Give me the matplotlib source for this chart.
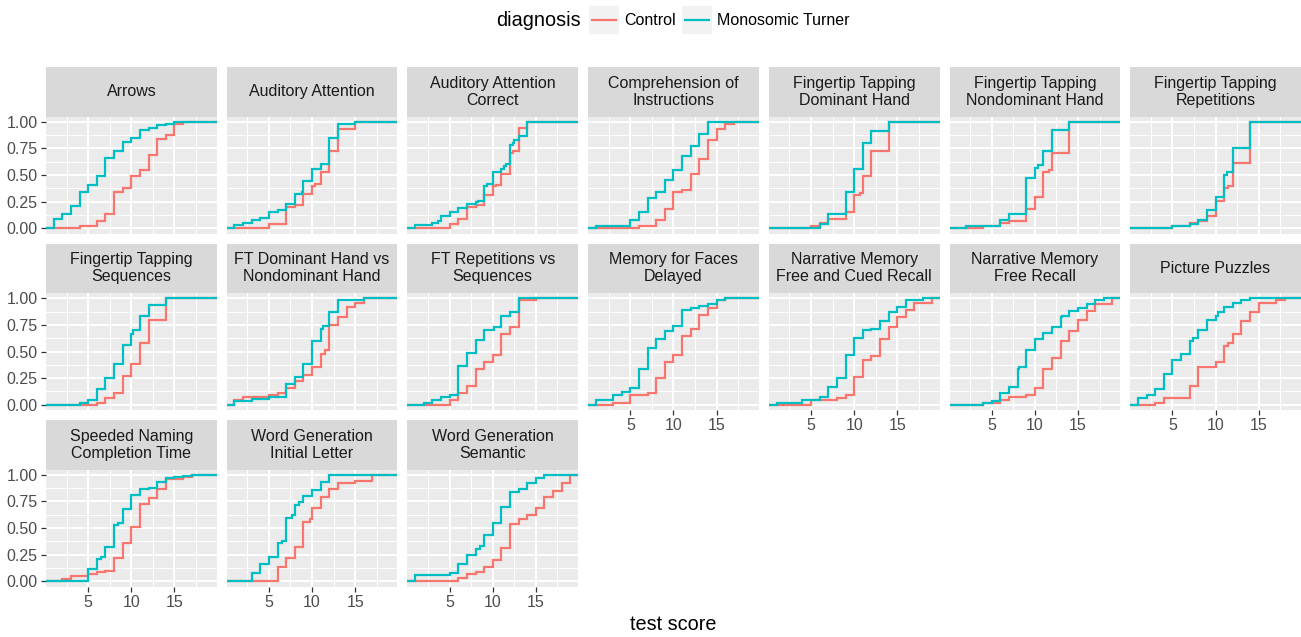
import matplotlib
matplotlib.use("Agg")
import matplotlib.pyplot as plt
from matplotlib.patches import Rectangle
from matplotlib.lines import Line2D

plt.rcParams['font.family'] = ['Liberation Sans', 'DejaVu Sans']

# ---- data: ECDF steps, (score, cumulative fraction) ----
arrows_ctrl = [(4, .02), (6, .07), (7, .13), (8, .34), (9, .38), (10, .49), (11, .55), (12, .69), (13, .84), (14, .88), (15, .98), (16, 1)]
arrows_turn = [(1, .09), (2, .13), (3, .21), (4, .34), (5, .41), (6, .49), (7, .66), (8, .73), (9, .81), (10, .85), (11, .92), (12, .94), (13, .97), (14, .98), (15, 1)]

aud_ctrl = [(5, .04), (7, .20), (8, .22), (9, .32), (10, .40), (10.4, .42), (11, .53), (12, .73), (13, .93), (15, 1)]
aud_turn = [(1, .03), (2, .05), (3, .075), (4, .10), (5, .15), (6, .175), (7, .23), (8, .32), (8.8, .34), (9, .44), (10, .56), (11, .60), (12, .85), (13, .98), (15, 1)]

audc_ctrl = [(5, .04), (6, .09), (7, .20), (8, .22), (9, .31), (10, .40), (10.4, .41), (11, .51), (12, .71), (12.3, .73), (13, .94), (14, 1)]
audc_turn = [(1, .03), (3, .05), (3.6, .07), (4, .11), (5, .15), (6, .19), (7, .23), (8, .25), (8.3, .26), (9, .40), (9.3, .42), (10, .53), (11, .56), (11.3, .58), (11.5, .60), (12, .78), (12.3, .80), (12.5, .83), (13, .87), (14, 1)]

comp_ctrl = [(6, .02), (8, .075), (9, .18), (10, .34), (11, .36), (12, .51), (13, .65), (14, .83), (15, .93), (16, .98), (17, 1)]
comp_turn = [(1, .02), (5, .075), (6, .15), (7, .28), (8, .34), (9, .45), (10, .55), (11, .68), (12, .77), (13, .89), (14, 1)]

ftdom_ctrl = [(5, .02), (6, .045), (7, .09), (9, .15), (10, .31), (10.7, .33), (11, .49), (12, .73), (14, 1)]
ftdom_turn = [(6, .04), (7, .13), (9, .34), (10, .56), (11, .80), (12, .91), (14, 1)]

ftnon_ctrl = [(4, .02), (6, .045), (7, .065), (9, .18), (10, .29), (11, .53), (11.6, .55), (12, .71), (14, 1)]
ftnon_turn = [(2, .02), (6, .075), (7, .13), (9, .47), (10, .57), (10.4, .59), (11, .73), (12, .92), (14, 1)]

ftrep_ctrl = [(5, .02), (7, .05), (8, .065), (9, .11), (10, .26), (11, .38), (11.5, .40), (12, .61), (14, 1)]
ftrep_turn = [(5, .02), (7, .04), (8, .075), (9, .17), (10, .29), (11, .50), (11.3, .53), (12, .75), (14, 1)]

ftseq_ctrl = [(6, .02), (7, .06), (8, .11), (9, .27), (10, .38), (11, .58), (12, .80), (14, 1)]
ftseq_turn = [(4, .02), (5, .04), (6, .15), (7, .25), (8, .38), (9, .56), (10, .66), (10.2, .70), (11, .83), (12, .94), (14, 1)]

ftdvn_ctrl = [(1, .04), (2, .07), (5, .09), (6, .11), (7, .16), (8, .22), (9, .28), (10, .35), (11, .48), (11.5, .51), (12, .75), (13, .82), (14, .92), (15, .96), (16, 1)]
ftdvn_turn = [(1, .03), (3, .05), (5, .075), (7, .19), (8, .26), (9, .38), (10, .60), (11, .71), (11.3, .74), (12, .87), (13, .98), (16, 1)]

ftrvs_ctrl = [(5, .045), (6, .11), (7, .18), (8, .34), (9, .40), (10, .47), (11, .66), (12, .73), (13, .98), (15, 1)]
ftrvs_turn = [(2, .02), (3, .04), (4, .075), (5, .09), (6, .36), (7, .49), (8, .61), (9, .70), (10.2, .73), (11, .83), (12, .87), (13, 1)]

faces_ctrl = [(3, .02), (5, .09), (7, .11), (8, .25), (9, .40), (10, .47), (11, .65), (12, .71), (13, .84), (14, .91), (15, .98), (16, 1)]
faces_turn = [(1, .04), (3, .09), (4, .12), (5, .16), (6, .34), (7, .53), (8, .62), (9, .69), (10, .74), (11, .89), (12, .91), (13, .93), (14, .95), (15, .98), (16, 1)]

nmcued_ctrl = [(5, .04), (8, .06), (9, .09), (10, .26), (11, .42), (12, .46), (13, .62), (14, .73), (15, .82), (16, .89), (17, .96), (19, 1)]
nmcued_turn = [(1, .02), (4, .04), (6, .075), (7, .17), (8, .25), (9, .47), (10, .63), (11, .70), (12, .71), (13, .79), (14, .87), (15, .92), (16, .98), (18, 1)]

nmfree_ctrl = [(4, .02), (6, .04), (7, .07), (9, .09), (10, .16), (11, .34), (12, .44), (13, .60), (14, .69), (15, .80), (16, .88), (17, .95), (19, 1)]
nmfree_turn = [(4, .02), (5, .03), (6, .11), (7, .17), (8, .34), (8.2, .35), (9, .51), (10, .62), (11, .67), (12, .73), (13, .82), (13.2, .83), (14, .88), (15, .91), (16, .95), (17, .98), (18, 1)]

puzz_ctrl = [(3, .02), (4, .06), (7, .18), (8, .35), (10, .40), (11, .55), (11.5, .58), (12, .66), (13, .79), (14, .87), (15, .96), (17, .98), (18, 1)]
puzz_turn = [(1, .06), (2, .09), (3, .15), (4, .29), (5, .42), (6, .48), (7, .60), (7.4, .63), (8, .70), (9, .80), (10, .83), (10.3, .87), (11, .92), (12, .96), (13, .98), (14, 1)]

speed_ctrl = [(2, .02), (3, .05), (5, .07), (6, .09), (7, .10), (8, .22), (9, .36), (10, .51), (11, .73), (12, .78), (13, .87), (14, .96), (16, .98), (17, 1)]
speed_turn = [(5, .11), (6, .21), (6.5, .23), (7, .32), (8, .53), (8.5, .55), (9, .68), (10, .81), (11, .87), (12, .88), (13, .93), (14, .97), (15, .98), (16, .99), (17, 1)]

wgil_ctrl = [(6, .13), (7, .22), (8, .32), (9, .56), (9.8, .58), (10, .69), (11, .79), (12, .87), (13, .92), (15, .94), (17, 1)]
wgil_turn = [(3, .08), (4, .16), (5, .23), (6, .36), (6.5, .38), (7, .59), (7.7, .62), (8, .72), (8.5, .74), (9, .80), (10, .86), (11, .93), (12, 1)]

wgsem_ctrl = [(6, .03), (7, .07), (8, .09), (9, .13), (10, .20), (11, .31), (12, .54), (13, .58), (14, .62), (15, .69), (16, .79), (17, .85), (18, .92), (19, 1)]
wgsem_turn = [(1, .06), (5, .08), (6, .16), (7, .25), (8, .30), (8.5, .33), (9, .43), (10, .55), (11, .70), (12, .84), (13, .87), (14, .92), (15, .97), (16, 1)]

titles = ["Arrows", "Auditory Attention", "Auditory Attention\nCorrect",
          "Comprehension of\nInstructions", "Fingertip Tapping\nDominant Hand",
          "Fingertip Tapping\nNondominant Hand", "Fingertip Tapping\nRepetitions",
          "Fingertip Tapping\nSequences", "FT Dominant Hand vs\nNondominant Hand",
          "FT Repetitions vs\nSequences", "Memory for Faces\nDelayed",
          "Narrative Memory\nFree and Cued Recall", "Narrative Memory\nFree Recall",
          "Picture Puzzles", "Speeded Naming\nCompletion Time",
          "Word Generation\nInitial Letter", "Word Generation\nSemantic"]
control_steps = [arrows_ctrl, aud_ctrl, audc_ctrl, comp_ctrl, ftdom_ctrl, ftnon_ctrl, ftrep_ctrl,
                 ftseq_ctrl, ftdvn_ctrl, ftrvs_ctrl, faces_ctrl, nmcued_ctrl, nmfree_ctrl, puzz_ctrl,
                 speed_ctrl, wgil_ctrl, wgsem_ctrl]
turner_steps = [arrows_turn, aud_turn, audc_turn, comp_turn, ftdom_turn, ftnon_turn, ftrep_turn,
                ftseq_turn, ftdvn_turn, ftrvs_turn, faces_turn, nmcued_turn, nmfree_turn, puzz_turn,
                speed_turn, wgil_turn, wgsem_turn]

CTRL_COL = "#F8766D"
TURN_COL = "#00BFC4"

W, H = 1301, 637
fig = plt.figure(figsize=(W / 100, H / 100), dpi=100)


def px_axes(left, top, w, h):
	return fig.add_axes([left / W, 1 - (top + h) / H, w / W, h / H])


def ecdf_line(ax, steps, color):
	xs = [-100] + [s[0] for s in steps] + [100]
	ys = [0] + [s[1] for s in steps] + [steps[-1][1]]
	ax.step(xs, ys, where='post', color=color, lw=1.6, solid_joinstyle='miter')


ncol = 7
pw, ph = 170.7, 117
strip_h = 49.5
lefts = [46 + c * 180.7 for c in range(ncol)]
tops = [116.5, 293, 469.5]
n = len(titles)

for i in range(n):
	r, c = divmod(i, ncol)
	ax = px_axes(lefts[c], tops[r], pw, ph)
	ax.set_facecolor("#EBEBEB")
	for sp in ax.spines.values():
		sp.set_visible(False)
	ax.set_xlim(0.1, 19.9)
	ax.set_ylim(-0.05, 1.05)
	ax.set_xticks([5, 10, 15])
	ax.set_xticks([2.5, 7.5, 12.5, 17.5], minor=True)
	ax.set_yticks([0, .25, .5, .75, 1])
	ax.set_yticklabels(["0.00", "0.25", "0.50", "0.75", "1.00"])
	ax.set_yticks([.125, .375, .625, .875], minor=True)
	ax.grid(which='major', color='white', lw=1.4)
	ax.grid(which='minor', color='white', lw=0.7)
	ax.set_axisbelow(True)
	ax.tick_params(which='minor', length=0)
	ax.tick_params(which='major', length=3.6, width=0.9, color='#333333',
		labelsize=11.5, labelcolor='#4D4D4D', pad=2.5)

	bottom = (i + ncol >= n)
	if not bottom:
		ax.tick_params(axis='x', length=0, labelbottom=False)
	if c != 0:
		ax.tick_params(axis='y', length=0, labelleft=False)

	ecdf_line(ax, control_steps[i], CTRL_COL)
	ecdf_line(ax, turner_steps[i], TURN_COL)

	sax = px_axes(lefts[c], tops[r] - strip_h, pw, strip_h)
	sax.set_facecolor("#D9D9D9")
	sax.set_xticks([])
	sax.set_yticks([])
	for sp in sax.spines.values():
		sp.set_visible(False)
	sax.text(0.5, 0.5, titles[i], ha='center', va='center', fontsize=11.5,
		color='#1A1A1A', linespacing=1.13, transform=sax.transAxes)

# x axis title
fig.text(673 / W, 1 - 625 / H, "test score", ha='center', va='center', fontsize=14.3)

# legend on top
fig.text(496 / W, 1 - 21 / H, "diagnosis", ha='left', va='center', fontsize=14.3)
for kx, col, lab in [(589, CTRL_COL, "Control"), (682, TURN_COL, "Monosomic Turner")]:
	fig.patches.append(Rectangle((kx / W, 1 - 34 / H), 30 / W, 28 / H,
		transform=fig.transFigure, facecolor='#F2F2F2', edgecolor='none'))
	fig.lines.append(Line2D([(kx + 3) / W, (kx + 27) / W], [1 - 20 / H, 1 - 20 / H],
		transform=fig.transFigure, color=col, lw=1.6))
	fig.text((kx + 35) / W, 1 - 20.5 / H, lab, ha='left', va='center', fontsize=11.5)

fig.savefig("out.png", dpi=100)
